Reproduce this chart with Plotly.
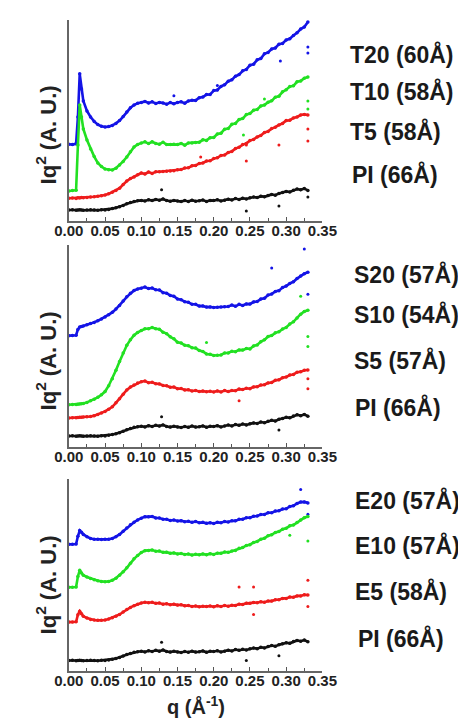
import plotly.graph_objects as go

# q grid (1/Angstrom), denser around the low-q peak
Q = [0.0, 0.005, 0.01, 0.0125, 0.015, 0.0175, 0.02, 0.025, 0.03, 0.035,
     0.04, 0.045, 0.05, 0.055, 0.06, 0.065, 0.07, 0.075, 0.08, 0.085,
     0.09, 0.095, 0.1, 0.105, 0.11, 0.115, 0.12, 0.125, 0.13, 0.135,
     0.14, 0.145, 0.15, 0.155, 0.16, 0.165, 0.17, 0.175, 0.18, 0.185,
     0.19, 0.195, 0.2, 0.205, 0.21, 0.215, 0.22, 0.225, 0.23, 0.235,
     0.24, 0.245, 0.25, 0.255, 0.26, 0.265, 0.27, 0.275, 0.28, 0.285,
     0.29, 0.295, 0.3, 0.305, 0.31, 0.315, 0.32, 0.325, 0.33]

# Iq^2, arbitrary units (stacked curves)
PI = [5.5, 5.6, 5.4, 5.5, 5.6, 5.5, 5.4, 5.5, 5.6, 5.5, 5.4, 5.6, 5.5, 5.8, 6.2,
      6.6, 7.1, 7.8, 8.6, 9.2, 9.8, 10.1, 10.3, 10.0, 10.6, 10.2, 10.8, 10.4, 11.0, 10.2,
      9.9, 10.3, 10.0, 9.7, 10.2, 9.8, 10.4, 9.9, 10.1, 10.5, 9.8, 10.3, 10.2, 10.6, 10.0,
      10.4, 10.9, 10.5, 11.2, 10.8, 11.4, 11.0, 11.6, 12.0, 11.7, 12.4, 12.1, 12.8, 13.3, 12.9,
      13.8, 14.2, 14.8, 14.5, 15.4, 16.0, 15.6, 16.2, 15.3]

T20 = [38.4, 38.2, 38.6, 52.0, 73.6, 66.0, 60.0, 55.0, 52.0, 49.8, 48.2, 47.4, 47.0, 47.2, 47.8,
       48.8, 50.2, 52.2, 54.5, 56.6, 58.0, 58.9, 59.2, 59.8, 59.0, 59.6, 58.8, 59.3, 59.0, 58.4,
       59.2, 58.6, 59.3, 59.6, 58.9, 60.0, 60.4, 60.3, 61.6, 62.0, 63.2, 63.3, 65.2, 65.5, 67.3,
       68.1, 69.9, 70.6, 72.4, 73.2, 75.1, 75.8, 77.9, 78.4, 80.6, 81.2, 83.6, 84.3, 86.0, 86.5,
       88.4, 88.8, 90.5, 91.1, 92.8, 94.1, 96.0, 97.0, 99.5]
T10 = [15.0, 15.2, 15.4, 38.0, 58.0, 52.0, 46.0, 40.5, 36.0, 32.2, 29.0, 27.2, 26.0, 25.6, 25.5,
       26.4, 28.0, 29.8, 32.0, 34.6, 37.0, 38.3, 39.0, 39.6, 38.7, 39.6, 38.8, 38.4, 39.4, 38.2,
       38.3, 38.4, 38.2, 38.8, 37.9, 39.0, 39.0, 39.3, 39.4, 40.6, 40.3, 41.6, 41.8, 43.5, 43.9,
       45.9, 46.2, 48.4, 48.8, 50.8, 51.2, 53.2, 53.7, 55.4, 55.8, 57.5, 58.0, 59.4, 60.1, 61.9,
       62.4, 64.6, 65.6, 67.2, 67.6, 69.6, 70.0, 71.4, 72.0]
T5 = [11.4, 11.5, 11.3, 11.6, 11.5, 11.7, 11.6, 11.8, 12.0, 12.1, 12.4, 12.6, 13.0, 13.6, 14.4,
      15.3, 16.4, 18.2, 20.0, 21.2, 22.0, 23.1, 24.0, 23.5, 24.5, 23.8, 24.6, 24.6, 24.8, 24.9,
      25.0, 25.1, 25.6, 25.7, 26.5, 26.6, 27.6, 27.8, 28.8, 29.0, 30.0, 30.1, 31.2, 31.6, 32.8,
      33.0, 34.3, 34.8, 36.2, 36.9, 38.2, 38.8, 40.2, 40.8, 42.0, 42.8, 44.3, 44.8, 46.2, 46.9,
      48.0, 48.8, 50.2, 50.4, 51.5, 52.0, 53.0, 53.3, 53.0]

S20 = [55.4, 55.5, 55.6, 58.5, 59.7, 60.0, 60.2, 60.8, 61.4, 62.0, 62.8, 63.7, 64.7, 65.8, 67.0,
       68.6, 70.4, 72.6, 74.7, 76.5, 77.9, 78.6, 79.0, 79.6, 78.8, 79.1, 78.2, 78.1, 76.8, 76.5,
       75.4, 75.0, 73.6, 73.3, 72.3, 72.0, 71.0, 71.0, 70.1, 70.2, 69.6, 69.7, 69.4, 69.5, 69.6,
       69.8, 69.9, 70.6, 70.0, 71.0, 70.4, 71.2, 71.1, 72.2, 72.4, 73.6, 74.0, 75.6, 76.1, 77.4,
       77.8, 79.3, 80.1, 81.4, 82.2, 83.8, 85.1, 86.2, 87.0]
S10 = [21.0, 21.1, 21.2, 21.3, 21.4, 21.5, 21.6, 22.2, 23.0, 23.8, 24.7, 26.0, 27.6, 30.5, 34.0,
       38.2, 42.5, 46.8, 50.6, 53.4, 55.6, 57.0, 58.0, 58.8, 58.8, 59.4, 58.8, 58.6, 57.1, 56.4,
       54.8, 53.8, 52.1, 51.7, 50.6, 50.4, 49.4, 49.2, 48.0, 47.5, 46.3, 46.1, 45.5, 45.7, 45.8,
       46.8, 46.8, 47.6, 47.4, 48.3, 48.2, 49.0, 48.8, 50.3, 50.8, 52.4, 53.3, 55.0, 55.5, 56.8,
       57.3, 58.7, 59.5, 61.2, 62.3, 64.2, 66.1, 67.4, 68.0]
S5 = [14.4, 14.5, 14.6, 14.7, 14.8, 14.8, 14.9, 15.0, 15.2, 15.6, 16.2, 16.9, 17.7, 18.8, 20.0,
      22.0, 24.0, 26.3, 28.4, 29.8, 30.8, 31.8, 32.5, 32.8, 32.0, 32.2, 31.5, 31.4, 30.6, 30.5,
      29.7, 29.8, 29.0, 29.1, 28.4, 28.5, 27.9, 28.1, 27.6, 27.8, 27.5, 27.7, 27.4, 27.9, 27.4,
      28.1, 27.6, 28.1, 28.0, 28.8, 28.6, 29.2, 29.0, 29.9, 30.0, 30.8, 31.0, 31.9, 32.1, 33.2,
      33.4, 34.5, 34.8, 35.8, 36.1, 37.2, 37.4, 38.2, 38.3]

E20 = [66.3, 66.4, 66.5, 70.5, 73.5, 72.6, 71.5, 70.3, 69.4, 69.0, 68.9, 68.8, 68.9, 69.0, 69.4,
       70.3, 71.5, 73.2, 74.9, 76.5, 77.9, 79.1, 80.0, 80.8, 80.7, 80.9, 80.1, 80.1, 79.4, 79.4,
       78.8, 79.0, 78.5, 78.7, 78.1, 78.4, 77.8, 78.2, 77.6, 77.8, 77.3, 77.6, 77.2, 77.8, 77.6,
       78.2, 78.0, 78.6, 78.6, 79.4, 79.4, 80.2, 80.2, 81.0, 81.1, 81.9, 81.9, 82.8, 82.8, 83.7,
       83.9, 84.8, 84.9, 86.1, 86.5, 87.7, 88.4, 88.5, 88.0]
E10 = [43.8, 43.9, 44.0, 49.5, 52.7, 51.3, 50.1, 49.2, 48.4, 47.7, 47.2, 46.9, 46.7, 46.9, 47.5,
       48.6, 50.1, 51.9, 54.0, 56.4, 58.7, 60.5, 62.0, 63.0, 63.1, 63.3, 62.7, 62.8, 62.1, 62.2,
       61.6, 61.8, 61.3, 61.5, 61.0, 61.2, 60.7, 61.1, 60.8, 61.3, 60.8, 61.4, 61.0, 61.7, 61.6,
       62.3, 62.1, 62.8, 63.1, 64.2, 64.6, 65.7, 66.1, 67.3, 67.8, 69.0, 69.5, 70.8, 71.3, 72.5,
       73.0, 74.2, 74.7, 76.0, 76.4, 77.7, 79.0, 80.2, 80.9]
E5 = [25.6, 25.7, 25.8, 29.5, 31.3, 30.0, 28.7, 27.7, 27.0, 26.7, 26.5, 26.6, 26.7, 27.2, 27.9,
      28.7, 29.6, 30.9, 32.2, 33.3, 34.2, 35.0, 35.6, 36.0, 35.7, 36.0, 35.4, 35.6, 35.0, 35.2,
      34.7, 35.0, 34.5, 34.7, 34.1, 34.3, 33.8, 34.0, 33.6, 33.9, 33.7, 34.0, 33.6, 34.1, 33.8,
      34.3, 33.9, 34.4, 34.3, 35.0, 34.8, 35.5, 35.4, 35.9, 35.7, 36.2, 36.0, 36.6, 36.6, 37.3,
      37.3, 38.0, 38.0, 38.7, 38.6, 39.3, 39.3, 39.9, 39.8]

# stray points (q, value) lying off the main curves
T20_STRAY = ([0.145, 0.205, 0.292, 0.33, 0.33], [62.6, 67.7, 80.0, 84.0, 87.0])
T10_STRAY = ([0.241, 0.27, 0.33, 0.33], [43.0, 61.0, 56.0, 60.0])
T5_STRAY = ([0.182, 0.245, 0.245, 0.29, 0.33, 0.33], [32.0, 30.0, 38.0, 38.0, 40.0, 46.0])
PI1_STRAY = ([0.128, 0.245, 0.29, 0.33], [15.6, 5.0, 7.5, 12.0])
S20_STRAY = ([0.28, 0.325, 0.33], [89.0, 98.5, 76.0])
S10_STRAY = ([0.19, 0.32, 0.33, 0.33], [52.0, 75.0, 50.0, 55.0])
S5_STRAY = ([0.235, 0.33, 0.33], [23.0, 29.0, 34.0])
PI2_STRAY = ([0.128, 0.29], [15.0, 8.4])
E20_STRAY = ([0.32, 0.33], [95.0, 82.0])
E10_STRAY = ([0.33, 0.305], [68.0, 71.0])
E5_STRAY = ([0.235, 0.255, 0.255, 0.33, 0.33], [44.0, 44.0, 29.6, 33.7, 47.5])
PI3_STRAY = ([0.128, 0.245, 0.29], [15.0, 5.5, 8.0])

PANELS = [
    [("T20 (60Å)", T20, T20_STRAY, "#1414e6"), ("T10 (58Å)", T10, T10_STRAY, "#22e022"),
     ("T5 (58Å)", T5, T5_STRAY, "#ee1c1c"), ("PI (66Å)", PI, PI1_STRAY, "#111111")],
    [("S20 (57Å)", S20, S20_STRAY, "#1414e6"), ("S10 (54Å)", S10, S10_STRAY, "#22e022"),
     ("S5 (57Å)", S5, S5_STRAY, "#ee1c1c"), ("PI (66Å)", PI, PI2_STRAY, "#111111")],
    [("E20 (57Å)", E20, E20_STRAY, "#1414e6"), ("E10 (57Å)", E10, E10_STRAY, "#22e022"),
     ("E5 (58Å)", E5, E5_STRAY, "#ee1c1c"), ("PI (66Å)", PI, PI3_STRAY, "#111111")],
]

W, H = 466, 720
X_LEFT, X_RIGHT = 49, 320
# (top px, bottom px) of each panel
PANEL_PX = [(12, 213), (237, 439), (471, 663)]
TITLE_Y = [127, 353, 577]
LABEL_POS = [
    [(347, 47), (347, 83), (347, 123), (350, 166)],
    [(352, 266), (352, 306), (352, 352), (353, 399)],
    [(353, 492), (353, 537), (353, 583), (356, 630)],
]

FONT = "Liberation Sans, Arial, sans-serif"

fig = go.Figure()
annotations = []
for i, panel in enumerate(PANELS):
    n = "" if i == 0 else str(i + 1)
    xa, ya = "x" + n, "y" + n
    for label, vals, stray, color in panel:
        fig.add_trace(go.Scatter(
            x=Q, y=vals, xaxis=xa, yaxis=ya, mode="lines+markers",
            line=dict(color=color, width=2.6), marker=dict(color=color, size=3.5),
            showlegend=False, hoverinfo="skip",
        ))
        fig.add_trace(go.Scatter(
            x=stray[0], y=stray[1], xaxis=xa, yaxis=ya, mode="markers",
            marker=dict(color=color, size=3), showlegend=False, hoverinfo="skip",
        ))
    top, bot = PANEL_PX[i]
    fig.update_layout(**{
        "xaxis" + n: dict(
            domain=[X_LEFT / W, X_RIGHT / W], range=[0, 0.35], anchor=ya,
            tickvals=[0, 0.05, 0.1, 0.15, 0.2, 0.25, 0.3, 0.35], tickformat=".2f",
            ticks="inside", ticklen=4, tickwidth=1.2, tickcolor="#555",
            minor=dict(ticks="inside", dtick=0.025, ticklen=3, tickcolor="#555"),
            ticklabelstandoff=-5,
            showline=True, linecolor="#666", linewidth=2, showgrid=False, zeroline=False,
            tickfont=dict(family=FONT, size=15, color="#222", weight="bold"),
        ),
        "yaxis" + n: dict(
            domain=[1 - bot / H, 1 - top / H], range=[0, 100.5], anchor=xa,
            showline=True, linecolor="#666", linewidth=2, showgrid=False,
            zeroline=False, showticklabels=False, ticks="",
        ),
    })
    annotations.append(dict(
        text="Iq<sup>2</sup> (A. U.)", textangle=-90, xref="paper", yref="paper",
        x=25 / W, y=1 - TITLE_Y[i] / H, xanchor="center", yanchor="middle", showarrow=False,
        font=dict(family=FONT, size=22, color="#222", weight="bold"),
    ))
    for (label, _, _, _), (lx, ly) in zip(panel, LABEL_POS[i]):
        annotations.append(dict(
            text=label, xref="paper", yref="paper", x=lx / W, y=1 - ly / H,
            xanchor="left", yanchor="middle", showarrow=False,
            font=dict(family=FONT, size=23, color="#1a1a1a", weight="bold"),
        ))

annotations.append(dict(
    text="q (Å<sup>-1</sup>)", xref="paper", yref="paper", x=184.5 / W, y=1 - 697 / H,
    xanchor="center", yanchor="middle", showarrow=False,
    font=dict(family=FONT, size=20, color="#222", weight="bold"),
))

fig.update_layout(
    width=W, height=H, margin=dict(l=0, r=0, t=0, b=0),
    paper_bgcolor="white", plot_bgcolor="white",
    annotations=annotations,
)
fig.write_html("out.html")
